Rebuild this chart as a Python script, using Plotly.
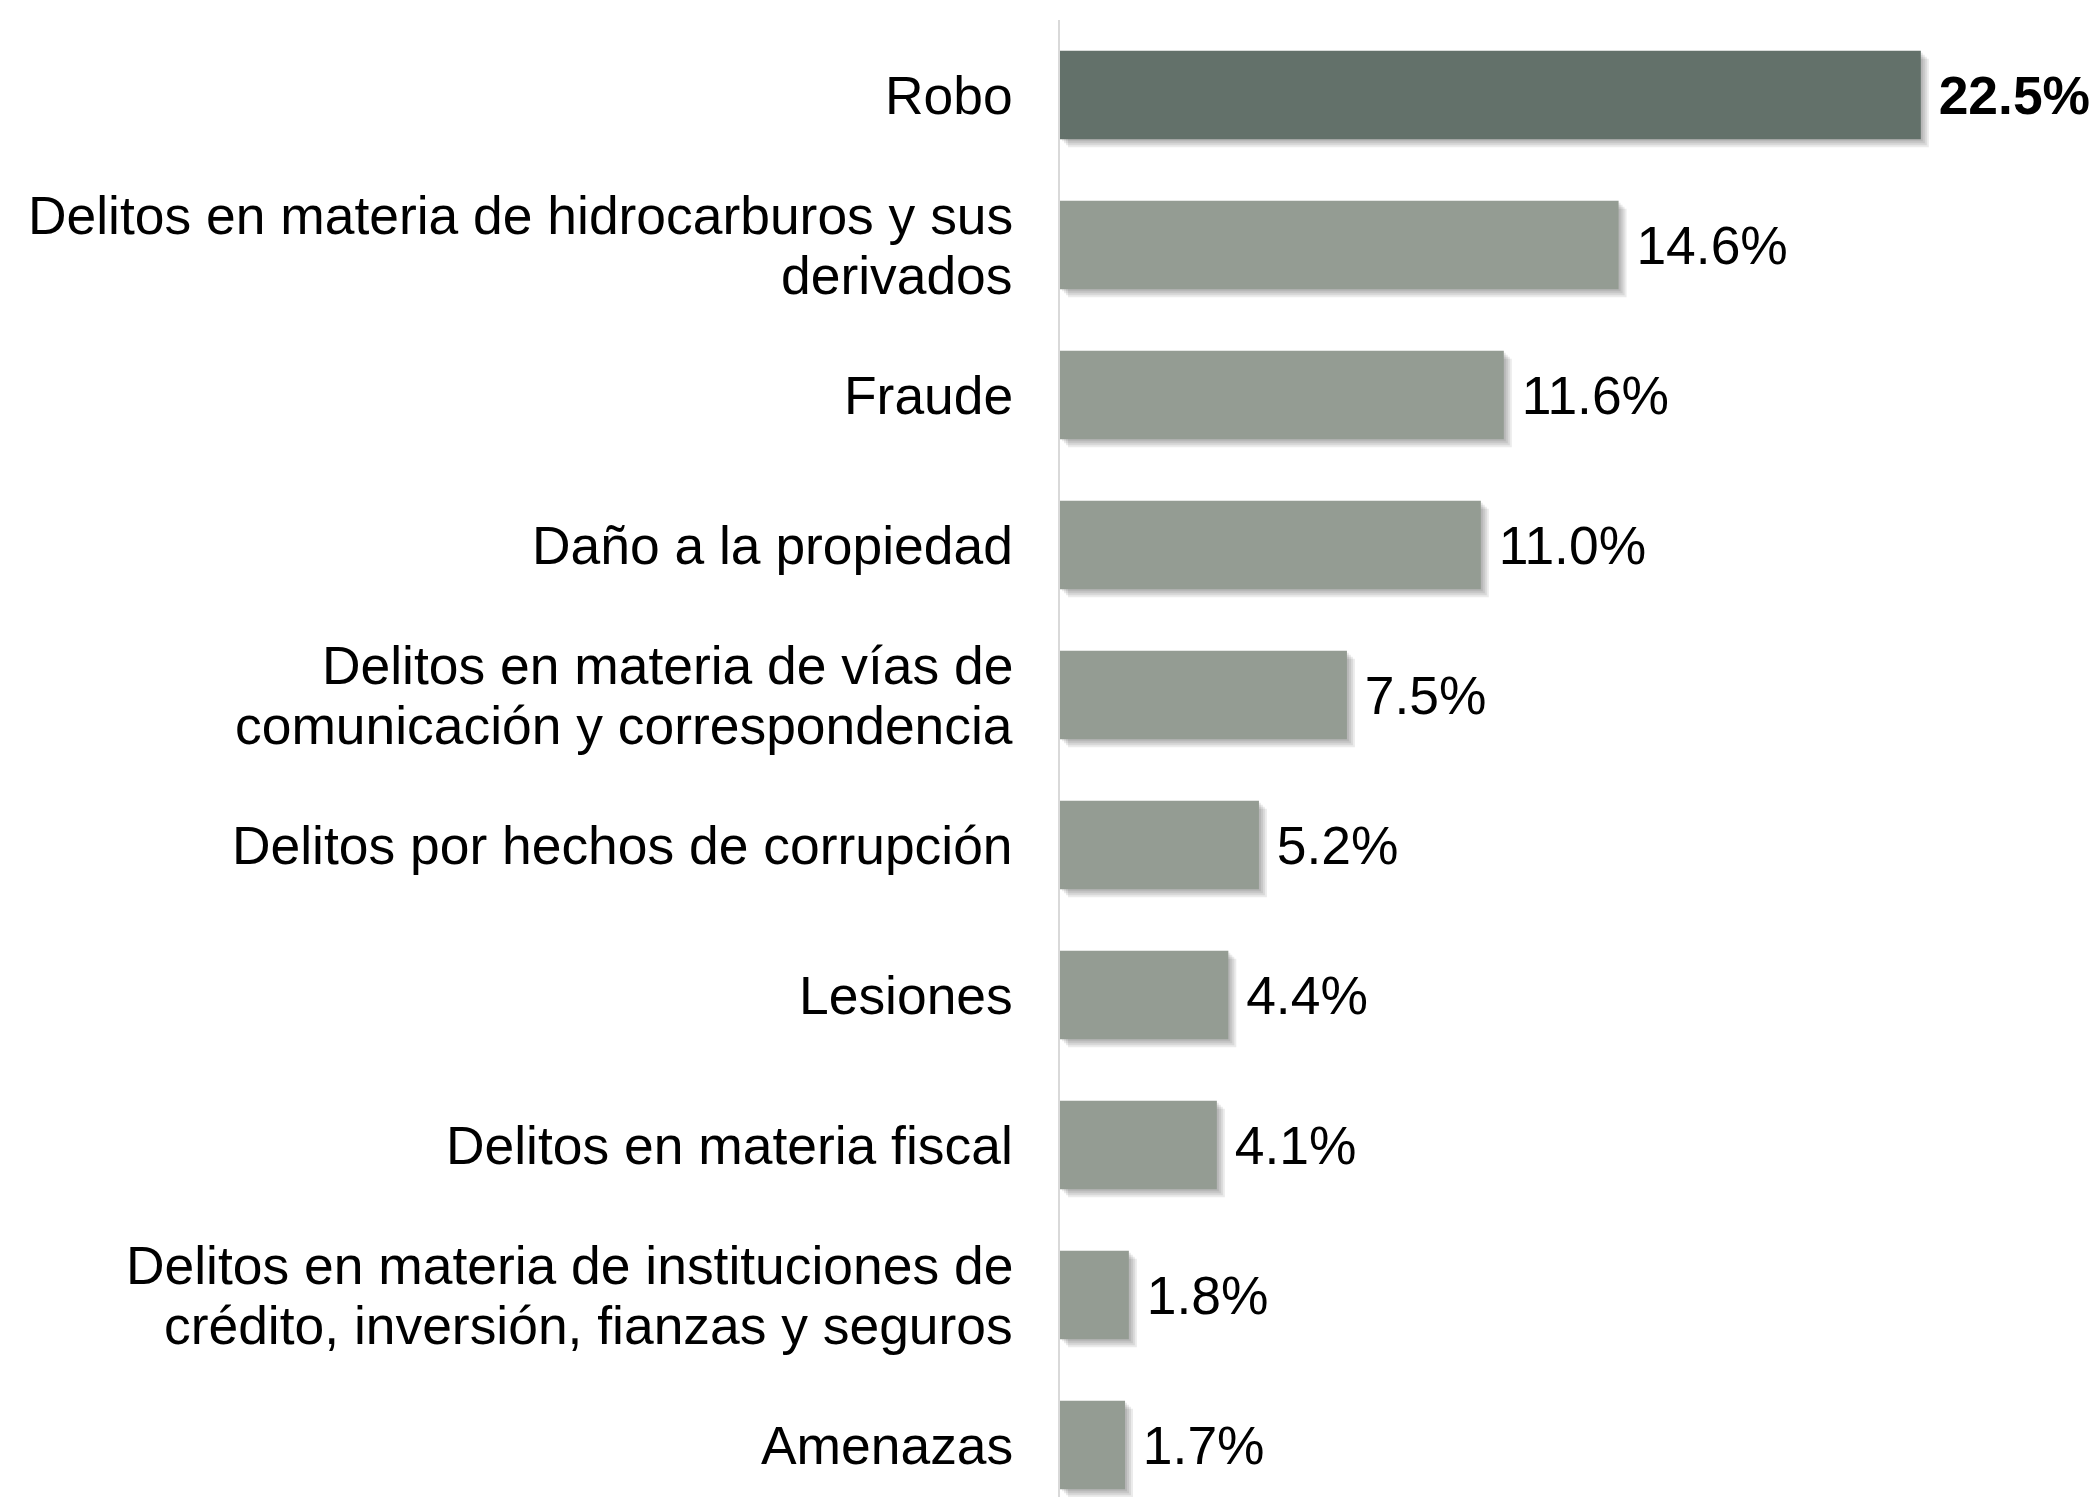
import plotly.graph_objects as go

# Delitos denunciados, porcentaje por tipo (orden de arriba hacia abajo)
categories = [
    "Robo",
    "Delitos en materia de hidrocarburos y sus derivados",
    "Fraude",
    "Daño a la propiedad",
    "Delitos en materia de vías de comunicación y correspondencia",
    "Delitos por hechos de corrupción",
    "Lesiones",
    "Delitos en materia fiscal",
    "Delitos en materia de instituciones de crédito, inversión, fianzas y seguros",
    "Amenazas",
]
wrapped_labels = [
    "Robo",
    "Delitos en materia de hidrocarburos y sus<br>derivados",
    "Fraude",
    "Daño a la propiedad",
    "Delitos en materia de vías de<br>comunicación y correspondencia",
    "Delitos por hechos de corrupción",
    "Lesiones",
    "Delitos en materia fiscal",
    "Delitos en materia de instituciones de<br>crédito, inversión, fianzas y seguros",
    "Amenazas",
]
values = [22.5, 14.6, 11.6, 11.0, 7.5, 5.2, 4.4, 4.1, 1.8, 1.7]

W, H = 2095, 1497
M_LEFT, M_RIGHT, M_TOP, M_BOTTOM = 1060, 2, 20, 0
X_RANGE = [0, 27]
Y_RANGE = [9.346, -0.5]          # reversed: first category on top
FONT = "Liberation Sans, Arial, sans-serif"
FS = 53.4

DARK = "#63716A"
LIGHT = "#949C93"
bar_colors = [DARK] + [LIGHT] * (len(values) - 1)
value_text = [
    ("\u00a0<b>%.1f%%</b>" % v) if i == 0 else ("\u00a0%.1f%%" % v)
    for i, v in enumerate(values)
]

plot_w = W - M_LEFT - M_RIGHT
plot_h = H - M_TOP - M_BOTTOM
px_per_x = plot_w / (X_RANGE[1] - X_RANGE[0])
px_per_y = plot_h / (Y_RANGE[0] - Y_RANGE[1])

fig = go.Figure()

# soft drop shadow: a few faint copies of the bars shifted right/down by a few pixels
shadow_offsets = [2, 4, 6, 8]
for k, d in enumerate(shadow_offsets, start=2):
    fig.add_trace(go.Bar(
        x=values, y=categories, orientation="h",
        marker=dict(color="rgba(0,0,0,0.08)", line=dict(width=0)),
        xaxis=f"x{k}", yaxis=f"y{k}", hoverinfo="skip", showlegend=False,
    ))
    fig.update_layout(**{
        f"xaxis{k}": dict(overlaying="x", visible=False,
                          range=[X_RANGE[0] - d / px_per_x, X_RANGE[1] - d / px_per_x]),
        f"yaxis{k}": dict(overlaying="y", visible=False, type="category",
                          categoryorder="array", categoryarray=categories,
                          range=[Y_RANGE[0] - d / px_per_y, Y_RANGE[1] - d / px_per_y]),
    })

top = len(shadow_offsets) + 2
fig.add_trace(go.Bar(
    x=values, y=categories, orientation="h",
    marker=dict(color=bar_colors, line=dict(width=0)),
    text=value_text, textposition="outside", cliponaxis=False,
    textfont=dict(family=FONT, size=FS, color="black"),
    xaxis=f"x{top}", yaxis=f"y{top}", showlegend=False,
))
fig.update_layout(**{
    f"xaxis{top}": dict(overlaying="x", visible=False, range=X_RANGE),
    f"yaxis{top}": dict(overlaying="y", visible=False, type="category",
                        categoryorder="array", categoryarray=categories, range=Y_RANGE),
})

# category labels, one annotation per line for tight line spacing
annotations = []
for cat, lab in zip(categories, wrapped_labels):
    lines = lab.split("<br>")
    n = len(lines)
    for j, line in enumerate(lines):
        annotations.append(dict(
            x=0, y=cat, xref="x", yref="y", text=line, showarrow=False,
            xanchor="right", yanchor="middle", xshift=-45,
            yshift=((n - 1) / 2 - j) * 60,
            font=dict(family=FONT, size=FS, color="black"),
        ))

fig.update_layout(
    width=W, height=H,
    margin=dict(l=M_LEFT, r=M_RIGHT, t=M_TOP, b=M_BOTTOM, pad=0),
    paper_bgcolor="white", plot_bgcolor="white",
    bargap=0.41,
    xaxis=dict(range=X_RANGE, visible=False, showgrid=False, zeroline=False),
    yaxis=dict(type="category", categoryorder="array", categoryarray=categories,
               range=Y_RANGE, showticklabels=False, ticks="", showgrid=False,
               zeroline=False, showline=True, linecolor="#D9D9D9", linewidth=2),
    annotations=annotations,
    font=dict(family=FONT, size=FS, color="black"),
)

fig.write_html("out.html")
